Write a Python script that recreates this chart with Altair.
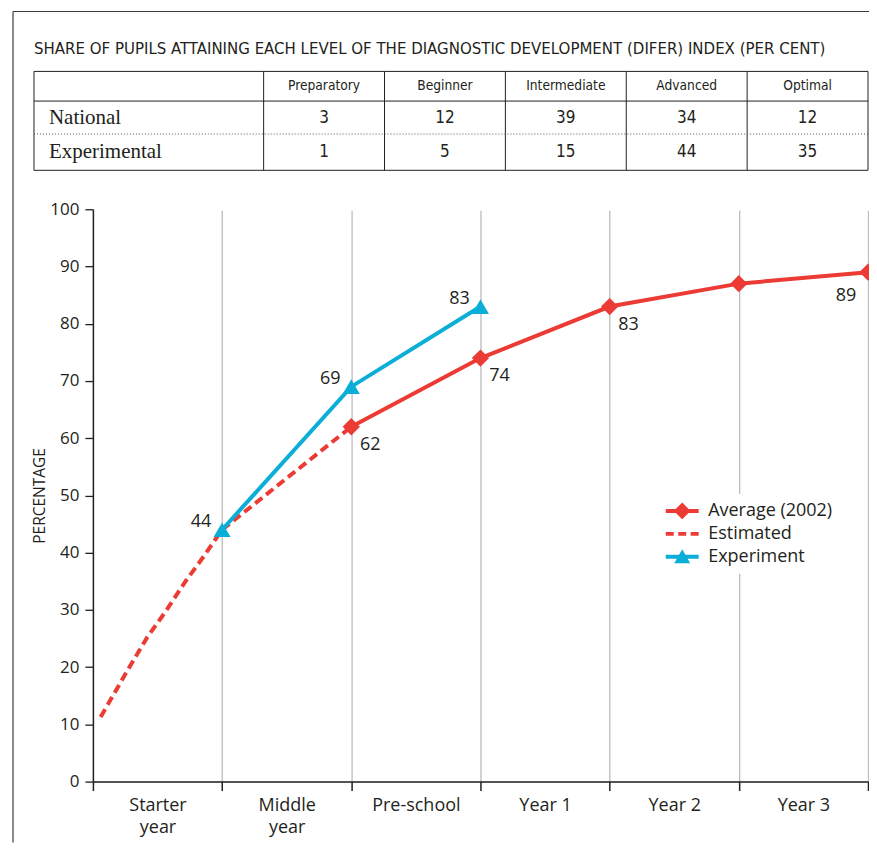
import json
import altair as alt
import pandas as pd

# ---------------- data ----------------
TITLE = "SHARE OF PUPILS ATTAINING EACH LEVEL OF THE DIAGNOSTIC DEVELOPMENT (DIFER) INDEX (PER CENT)"
levels = ["Preparatory", "Beginner", "Intermediate", "Advanced", "Optimal"]
row_names = ["National", "Experimental"]
national = [3, 12, 39, 34, 12]
experimental = [1, 5, 15, 44, 35]

stages = ["Starter year", "Middle year", "Pre-school", "Year 1", "Year 2", "Year 3"]
# x = position on the stage axis (0 = start of Starter year, 1 = end of Starter year, ...)
average_x = [2, 3, 4, 5, 6]
average_y = [62, 74, 83, 87, 89]
estimated_x = [0.06, 0.28, 0.42, 0.565, 0.72, 0.85, 1, 2]
estimated_y = [11.3, 19.9, 25.2, 29.8, 35.1, 39.1, 44, 62]
experiment_x = [1, 2, 3]
experiment_y = [44, 69, 83]
series = ["Average (2002)", "Estimated", "Experiment"]

# ---------------- style ----------------
RED = "#ec3b34"
BLUE = "#0aaed6"
INK = "#231f20"
SANS = "Open Sans, Noto Sans, sans-serif"
NARROW = "DejaVu Sans Condensed, Liberation Sans Narrow, sans-serif"
SERIF = "Liberation Serif, DejaVu Serif, serif"

PW, PH = 776, 573          # plot area of the line chart
TABLE_BOX = [-59, PW]      # table's horizontal extent, relative to the plot area
TABLE_ROWS = [-138, -39]   # table's vertical extent, relative to the plot area
FRAME_LEFT, FRAME_TOP, FRAME_BOTTOM = -80, -198, 634

# ---------------- table (drawn above the plot with its own scales) ----------------
first_w = 1.9
col_edges = [0, first_w] + [first_w + i + 1 for i in range(len(levels))]
row_edges = [0, 0.9, 1.9, 3.0]

hdr = pd.DataFrame({
    "x": [first_w + i + 0.5 for i in range(len(levels))],
    "y": [(row_edges[0] + row_edges[1]) / 2] * len(levels),
    "t": levels,
})
vals_rows = []
for r, vals in enumerate([national, experimental]):
    yc = (row_edges[r + 1] + row_edges[r + 2]) / 2
    for i, v in enumerate(vals):
        vals_rows.append({"x": first_w + i + 0.5, "y": yc, "t": str(v)})
vals_df = pd.DataFrame(vals_rows)
rl_df = pd.DataFrame({
    "x": [0, 0],
    "y": [(row_edges[1] + row_edges[2]) / 2, (row_edges[2] + row_edges[3]) / 2],
    "t": row_names,
})
vl_df = pd.DataFrame({"x": col_edges, "y": [0] * len(col_edges), "y2": [3] * len(col_edges)})
hl_df = pd.DataFrame({"y": [row_edges[0], row_edges[1], row_edges[3]], "x": [0] * 3, "x2": [col_edges[-1]] * 3})
hd_df = pd.DataFrame({"y": [row_edges[2]], "x": [0], "x2": [col_edges[-1]]})

xA = alt.X("x:Q", scale=alt.Scale(domain=[0, col_edges[-1]], range=TABLE_BOX, nice=False, zero=False), axis=None)
yA = alt.Y("y:Q", scale=alt.Scale(domain=[0, 3], range=TABLE_ROWS, nice=False, zero=False), axis=None)

one = pd.DataFrame({"k": [0]})
frame_top = alt.Chart(one).mark_rule(color="#3a3a3a", strokeWidth=1.2).encode(
    x=alt.value(FRAME_LEFT), x2=alt.value(PW + 1), y=alt.value(FRAME_TOP))
frame_left = alt.Chart(one).mark_rule(color="#3a3a3a", strokeWidth=1.2).encode(
    x=alt.value(FRAME_LEFT), y=alt.value(FRAME_TOP), y2=alt.value(FRAME_BOTTOM))
# masks the stray light rule that appears along the top edge of the plot area
top_mask = alt.Chart(one).mark_rule(color="white", strokeWidth=3).encode(
    x=alt.value(1.5), x2=alt.value(PW + 2), y=alt.value(0))
title_mark = alt.Chart(pd.DataFrame({"t": [TITLE]})).mark_text(
    font=NARROW, fontSize=16.7, color=INK, align="left", baseline="alphabetic"
).encode(x=alt.value(TABLE_BOX[0]), y=alt.value(-155), text="t:N")

t_vl = alt.Chart(vl_df).mark_rule(color=INK, strokeWidth=1).encode(x=xA, y=yA, y2="y2:Q")
t_hl = alt.Chart(hl_df).mark_rule(color=INK, strokeWidth=1).encode(x=xA, x2="x2:Q", y=yA)
t_hd = alt.Chart(hd_df).mark_rule(color="#555", strokeWidth=1, strokeDash=[1, 2]).encode(x=xA, x2="x2:Q", y=yA)
t_hdr = alt.Chart(hdr).mark_text(font=NARROW, fontSize=13.7, color=INK, baseline="middle").encode(
    x=xA, y=yA, text="t:N")
t_vals = alt.Chart(vals_df).mark_text(font=NARROW, fontSize=17, color=INK, baseline="middle").encode(
    x=xA, y=yA, text="t:N")
t_rl = alt.Chart(rl_df).mark_text(font=SERIF, fontSize=21, color=INK, baseline="middle", align="left", dx=15).encode(
    x=xA, y=yA, text="t:N")

table = alt.layer(t_vl, t_hl, t_hd, t_hdr, t_vals, t_rl, frame_top, frame_left, title_mark, top_mask)

# ---------------- line chart ----------------
avg_df = pd.DataFrame({"x": average_x, "y": average_y, "t": [str(v) for v in average_y]})
est_df = pd.DataFrame({"x": estimated_x, "y": estimated_y})
exp_df = pd.DataFrame({"x": experiment_x, "y": experiment_y, "t": [str(v) for v in experiment_y]})

axis_labels = [s.split(" ") if s.endswith(" year") else s for s in stages]
label_expr = "datum.value % 1 == 0 ? '' : " + json.dumps(axis_labels) + "[floor(datum.value)]"

xB = alt.X("x:Q", scale=alt.Scale(domain=[0, 6], nice=False, zero=False), axis=alt.Axis(
    values=[i / 2 for i in range(13)], labelExpr=label_expr, title=None,
    domainColor=INK, domainWidth=1.5, tickColor=INK, tickWidth=1.5, tickSize=9,
    tickOpacity={"condition": {"test": "datum.value % 1 != 0", "value": 0}, "value": 1},
    grid=True, gridColor="#bdbdbd", gridWidth=1.3,
    gridOpacity={"condition": {"test": "datum.value % 1 != 0 || datum.value == 0", "value": 0}, "value": 1},
    labelFont=SANS, labelFontSize=18, labelColor=INK, labelPadding=6, labelLineHeight=22,
    labelAngle=0, labelFlush=False, labelOverlap=False, labelBaseline="top",
))
yB = alt.Y("y:Q", scale=alt.Scale(domain=[0, 100], nice=False), axis=alt.Axis(
    values=list(range(0, 101, 10)), grid=False, title="PERCENTAGE",
    domainColor=INK, domainWidth=1.5, tickColor=INK, tickWidth=1.3, tickSize=8,
    labelFont=SANS, labelFontSize=17, labelColor=INK, labelPadding=6,
    titleFont=SANS, titleFontSize=15.5, titleFontWeight="normal", titleColor=INK, titlePadding=2,
))

est_line = alt.Chart(est_df).mark_line(color=RED, strokeWidth=4, strokeDash=[9, 5]).encode(x=xB, y=yB, order="x:Q")
avg_line = alt.Chart(avg_df).mark_line(color=RED, strokeWidth=4).encode(x=xB, y=yB, order="x:Q")
exp_line = alt.Chart(exp_df).mark_line(color=BLUE, strokeWidth=4).encode(x=xB, y=yB, order="x:Q")
avg_pts = alt.Chart(avg_df).mark_point(shape="diamond", filled=True, size=300, color=RED, opacity=1).encode(x=xB, y=yB)
exp_pts = alt.Chart(exp_df).mark_point(shape="triangle-up", filled=True, size=290, color=BLUE, opacity=1).encode(x=xB, y=yB)

lbl = dict(font=SANS, fontSize=18, color=INK, baseline="middle")
exp_lbl = alt.Chart(exp_df).mark_text(dx=-21, dy=-8, **lbl).encode(x=xB, y=yB, text="t:N")
avg_lbl_r = alt.Chart(avg_df).transform_filter("datum.x <= 4").mark_text(dx=19, dy=18, **lbl).encode(
    x=xB, y=yB, text="t:N")
avg_lbl_l = alt.Chart(avg_df).transform_filter("datum.x == 6").mark_text(dx=-22, dy=24, **lbl).encode(
    x=xB, y=yB, text="t:N")

# legend symbols (unit = 8 px): line + diamond, dashes, line + triangle
paths = [
    "M-2.06,-0.25H2.06V0.25H-2.06Z M0,-1.05L1.05,0L0,1.05L-1.05,0Z",
    "M-2.06,-0.25H-1.06V0.25H-2.06Z M-0.5,-0.25H0.5V0.25H-0.5Z M1.06,-0.25H2.06V0.25H1.06Z",
    "M-2.06,-0.25H2.06V0.25H-2.06Z M0,-0.95L1,0.8L-1,0.8Z",
]
leg = alt.Legend(title=None, orient="none", legendX=573, legendY=285, direction="vertical",
                 labelFont=SANS, labelFontSize=18, labelColor=INK, labelOffset=17,
                 symbolSize=256, symbolStrokeWidth=0, symbolOpacity=1, rowPadding=5,
                 fillColor="white", padding=8)
legend_layer = alt.Chart(pd.DataFrame({"series": series})).mark_point(filled=True, opacity=0).encode(
    color=alt.Color("series:N", scale=alt.Scale(domain=series, range=[RED, RED, BLUE]), legend=leg),
    shape=alt.Shape("series:N", scale=alt.Scale(domain=series, range=paths), legend=leg),
)

plot = alt.layer(est_line, avg_line, exp_line, avg_pts, exp_pts,
                 exp_lbl, avg_lbl_r, avg_lbl_l, legend_layer)

chart = alt.layer(plot, table).resolve_scale(x="independent", y="independent").properties(
    width=PW, height=PH,
    padding={"left": 4, "top": 2, "right": -8, "bottom": 0},
).configure_view(stroke="transparent", strokeWidth=0, strokeOpacity=0).configure(background="white")

chart.save("out.html", embed_options={"renderer": "svg", "actions": False})
